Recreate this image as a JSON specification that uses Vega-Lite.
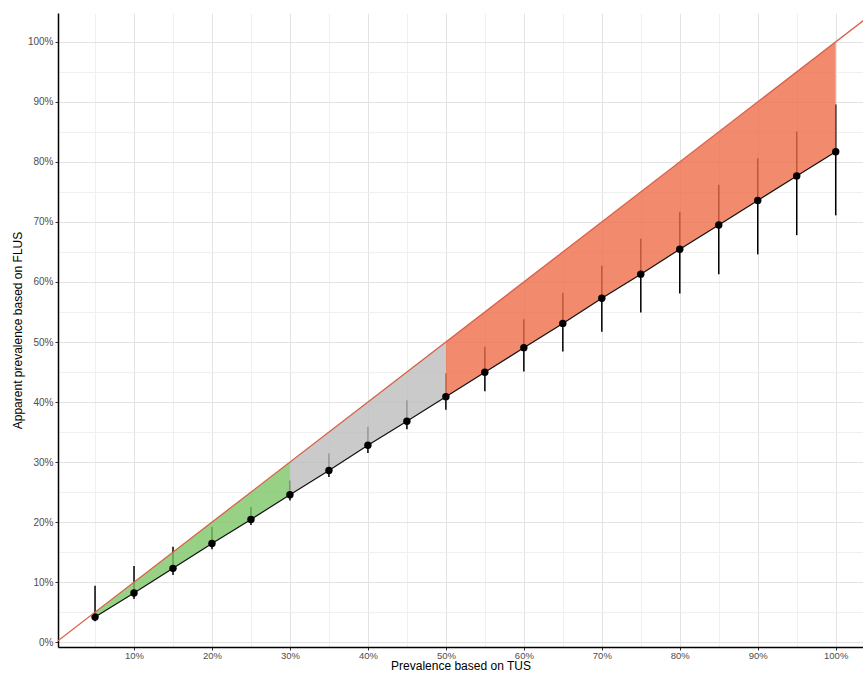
{
  "$schema": "https://vega.github.io/schema/vega-lite/v6.json",
  "width": 805,
  "height": 634,
  "autosize": {"type": "none"},
  "padding": {"left": 58, "top": 13, "right": 0, "bottom": 28},
  "background": "white",
  "config": {
    "view": {"stroke": null},
    "font": "Liberation Sans",
    "axis": {
      "domainColor": "#000000",
      "domainWidth": 1.5,
      "tickColor": {"condition": {"test": "round(datum.value*100) % 10 === 0", "value": "#333333"}, "value": "transparent"},
      "tickSize": 3,
      "tickWidth": 1,
      "gridColor": {"condition": {"test": "round(datum.value*100) % 10 === 0", "value": "#e3e3e3"}, "value": "#f0f0f0"},
      "gridWidth": 1,
      "labelColor": "#4d4d4d",
      "labelFontSize": 10,
      "labelFont": "Liberation Sans",
      "labelPadding": 2,
      "titleFont": "Liberation Sans",
      "titleFontWeight": "normal",
      "titleFontSize": 12,
      "titleColor": "#000000"
    }
  },
  "datasets": {
    "pts": [
      {"x": 0.05, "y": 0.042, "lo": 0.035, "hi": 0.094},
      {"x": 0.10, "y": 0.082, "lo": 0.072, "hi": 0.127},
      {"x": 0.15, "y": 0.123, "lo": 0.112, "hi": 0.159},
      {"x": 0.20, "y": 0.1645, "lo": 0.155, "hi": 0.192},
      {"x": 0.25, "y": 0.2045, "lo": 0.195, "hi": 0.225},
      {"x": 0.30, "y": 0.2457, "lo": 0.236, "hi": 0.2695},
      {"x": 0.35, "y": 0.286, "lo": 0.275, "hi": 0.3145},
      {"x": 0.40, "y": 0.328, "lo": 0.315, "hi": 0.359},
      {"x": 0.45, "y": 0.368, "lo": 0.3545, "hi": 0.403},
      {"x": 0.50, "y": 0.409, "lo": 0.387, "hi": 0.448},
      {"x": 0.55, "y": 0.4495, "lo": 0.418, "hi": 0.492},
      {"x": 0.60, "y": 0.4906, "lo": 0.451, "hi": 0.538},
      {"x": 0.65, "y": 0.531, "lo": 0.484, "hi": 0.582},
      {"x": 0.70, "y": 0.573, "lo": 0.517, "hi": 0.627},
      {"x": 0.75, "y": 0.613, "lo": 0.549, "hi": 0.672},
      {"x": 0.80, "y": 0.6545, "lo": 0.581, "hi": 0.717},
      {"x": 0.85, "y": 0.695, "lo": 0.613, "hi": 0.762},
      {"x": 0.90, "y": 0.7357, "lo": 0.646, "hi": 0.806},
      {"x": 0.95, "y": 0.7767, "lo": 0.678, "hi": 0.8507},
      {"x": 1.00, "y": 0.817, "lo": 0.711, "hi": 0.8957}
    ],
    "areas": [
      {"zone": "low", "x": 0.05, "y": 0.042, "up": 0.05},
      {"zone": "low", "x": 0.10, "y": 0.082, "up": 0.10},
      {"zone": "low", "x": 0.15, "y": 0.123, "up": 0.15},
      {"zone": "low", "x": 0.20, "y": 0.1645, "up": 0.20},
      {"zone": "low", "x": 0.25, "y": 0.2045, "up": 0.25},
      {"zone": "low", "x": 0.30, "y": 0.2457, "up": 0.30},
      {"zone": "mid", "x": 0.30, "y": 0.2457, "up": 0.30},
      {"zone": "mid", "x": 0.35, "y": 0.286, "up": 0.35},
      {"zone": "mid", "x": 0.40, "y": 0.328, "up": 0.40},
      {"zone": "mid", "x": 0.45, "y": 0.368, "up": 0.45},
      {"zone": "mid", "x": 0.50, "y": 0.409, "up": 0.50},
      {"zone": "high", "x": 0.50, "y": 0.409, "up": 0.50},
      {"zone": "high", "x": 0.55, "y": 0.4495, "up": 0.55},
      {"zone": "high", "x": 0.60, "y": 0.4906, "up": 0.60},
      {"zone": "high", "x": 0.65, "y": 0.531, "up": 0.65},
      {"zone": "high", "x": 0.70, "y": 0.573, "up": 0.70},
      {"zone": "high", "x": 0.75, "y": 0.613, "up": 0.75},
      {"zone": "high", "x": 0.80, "y": 0.6545, "up": 0.80},
      {"zone": "high", "x": 0.85, "y": 0.695, "up": 0.85},
      {"zone": "high", "x": 0.90, "y": 0.7357, "up": 0.90},
      {"zone": "high", "x": 0.95, "y": 0.7767, "up": 0.95},
      {"zone": "high", "x": 1.00, "y": 0.817, "up": 1.00}
    ],
    "diag": [
      {"x": 0.0, "y": 0.0},
      {"x": 1.1, "y": 1.1}
    ]
  },
  "encoding": {
    "x": {
      "field": "x", "type": "quantitative",
      "scale": {"domain": [0.0025, 1.035], "nice": false, "zero": false},
      "axis": {
        "title": "Prevalence based on TUS",
        "values": [0.05, 0.1, 0.15, 0.2, 0.25, 0.3, 0.35, 0.4, 0.45, 0.5, 0.55, 0.6, 0.65, 0.7, 0.75, 0.8, 0.85, 0.9, 0.95, 1.0],
        "labelExpr": "round(datum.value*100) % 10 === 0 ? format(datum.value, '.0%') : ''",
        "labelPadding": 0,
        "labelFontSize": 9.5,
        "titlePadding": 1
      }
    },
    "y": {
      "field": "y", "type": "quantitative",
      "scale": {"domain": [-0.008, 1.048], "nice": false, "zero": false},
      "axis": {
        "title": "Apparent prevalence based on FLUS",
        "values": [0, 0.05, 0.1, 0.15, 0.2, 0.25, 0.3, 0.35, 0.4, 0.45, 0.5, 0.55, 0.6, 0.65, 0.7, 0.75, 0.8, 0.85, 0.9, 0.95, 1.0],
        "labelExpr": "round(datum.value*100) % 10 === 0 ? format(datum.value, '.0%') : ''",
        "titlePadding": 3
      }
    }
  },
  "layer": [
    {
      "data": {"name": "pts"},
      "mark": {"type": "rule", "color": "#000000", "strokeWidth": 1.5},
      "encoding": {
        "y": {
          "field": "lo", "type": "quantitative",
          "scale": {"domain": [-0.008, 1.048], "nice": false, "zero": false},
          "axis": {
            "title": "Apparent prevalence based on FLUS",
            "values": [0, 0.05, 0.1, 0.15, 0.2, 0.25, 0.3, 0.35, 0.4, 0.45, 0.5, 0.55, 0.6, 0.65, 0.7, 0.75, 0.8, 0.85, 0.9, 0.95, 1.0],
            "labelExpr": "round(datum.value*100) % 10 === 0 ? format(datum.value, '.0%') : ''",
            "titlePadding": 3
          }
        },
        "y2": {"field": "hi"}
      }
    },
    {
      "data": {"name": "areas"},
      "mark": {"type": "area", "opacity": 0.8, "clip": true},
      "encoding": {
        "y": {
          "field": "y", "type": "quantitative", "stack": null,
          "scale": {"domain": [-0.008, 1.048], "nice": false, "zero": false},
          "axis": {
            "title": "Apparent prevalence based on FLUS",
            "values": [0, 0.05, 0.1, 0.15, 0.2, 0.25, 0.3, 0.35, 0.4, 0.45, 0.5, 0.55, 0.6, 0.65, 0.7, 0.75, 0.8, 0.85, 0.9, 0.95, 1.0],
            "labelExpr": "round(datum.value*100) % 10 === 0 ? format(datum.value, '.0%') : ''",
            "titlePadding": 3
          }
        },
        "y2": {"field": "up"},
        "color": {
          "field": "zone", "type": "nominal",
          "scale": {"domain": ["low", "mid", "high"], "range": ["#7cc566", "#bdbdbd", "#ef6d48"]},
          "legend": null
        }
      }
    },
    {
      "data": {"name": "pts"},
      "mark": {"type": "line", "color": "#111111", "strokeWidth": 1.2},
      "encoding": {}
    },
    {
      "data": {"name": "pts"},
      "mark": {"type": "circle", "color": "#000000", "opacity": 1, "size": 55},
      "encoding": {}
    },
    {
      "data": {"name": "diag"},
      "mark": {"type": "line", "color": "#d9604a", "strokeWidth": 1.3, "clip": true},
      "encoding": {}
    }
  ]
}
